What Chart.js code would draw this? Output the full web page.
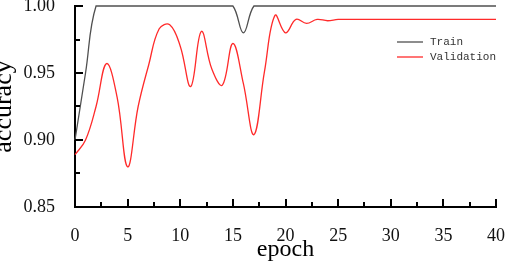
<!DOCTYPE html>
<html>
<head>
<meta charset="utf-8">
<script src="https://cdn.jsdelivr.net/npm/chart.js@4.4.0/dist/chart.umd.min.js"></script>
<style>
  html, body { margin: 0; padding: 0; background: #fff; }
  #wrap { width: 505px; height: 264px; }
</style>
</head>
<body>
<div id="wrap"><canvas id="accChart"></canvas></div>
<script>
// epochs 0..40
const epochs = [0,1,2,3,4,5,6,7,8,9,10,11,12,13,14,15,16,17,18,19,20,21,22,23,24,25,26,27,28,29,30,31,32,33,34,35,36,37,38,39,40];
const trainAcc = [0.90,0.95,1.00,1.00,1.00,1.00,1.00,1.00,1.00,1.00,1.00,1.00,1.00,1.00,1.00,1.00,0.98,1.00,1.00,1.00,1.00,1.00,1.00,1.00,1.00,1.00,1.00,1.00,1.00,1.00,1.00,1.00,1.00,1.00,1.00,1.00,1.00,1.00,1.00,1.00,1.00];
const valAcc = [0.889,0.900,0.925,0.957,0.932,0.880,0.925,0.956,0.983,0.986,0.970,0.940,0.981,0.953,0.941,0.972,0.942,0.904,0.951,0.993,0.980,0.990,0.987,0.990,0.989,0.990,0.990,0.990,0.990,0.990,0.990,0.990,0.990,0.990,0.990,0.990,0.990,0.990,0.990,0.990,0.990];
const xTicks = [0,5,10,15,20,25,30,35,40];
const yTicks = [0.85,0.90,0.95,1.00];

const toPts = arr => arr.map((v, i) => ({ x: epochs[i], y: v }));

// ticks drawn inward, like the original plot
const innerTicks = {
    id: 'innerTicks',
    afterDraw(chart) {
        const ctx = chart.ctx;
        const xs = chart.scales.x, ys = chart.scales.y;
        const a = chart.chartArea;
        ctx.save();
        ctx.strokeStyle = '#000';
        ctx.lineWidth = 2;
        for (let v = 0; v <= 40; v += 2.5) {
            const px = Math.round(xs.getPixelForValue(v));
            const len = (v % 5 === 0) ? 8 : 5;
            ctx.beginPath();
            ctx.moveTo(px, a.bottom);
            ctx.lineTo(px, a.bottom - len);
            ctx.stroke();
        }
        for (let k = 0; k <= 6; k++) {
            const v = 0.85 + k * 0.025;
            const py = Math.round(ys.getPixelForValue(v));
            const len = (k % 2 === 0) ? 8 : 5;
            ctx.beginPath();
            ctx.moveTo(a.left, py);
            ctx.lineTo(a.left + len, py);
            ctx.stroke();
        }
        // legend
        const items = chart.data.datasets;
        ctx.font = '11px "Liberation Mono"';
        ctx.textBaseline = 'middle';
        items.forEach((ds, i) => {
            const y = 42 + i * 15;
            ctx.strokeStyle = ds.borderColor;
            ctx.lineWidth = 1.3;
            ctx.beginPath();
            ctx.moveTo(397, y);
            ctx.lineTo(423, y);
            ctx.stroke();
            ctx.fillStyle = '#333';
            ctx.fillText(ds.label, 430, y);
        });
        ctx.restore();
    }
};

new Chart(document.getElementById('accChart'), {
    type: 'line',
    data: {
        datasets: [{
            label: 'Train',
            data: toPts(trainAcc),
            borderColor: '#505050',
            borderWidth: 1.3,
            pointRadius: 0,
            tension: 0.4,
            clip: false
        }, {
            label: 'Validation',
            data: toPts(valAcc),
            borderColor: '#ff2a2a',
            borderWidth: 1.3,
            pointRadius: 0,
            tension: 0.4,
            clip: false
        }]
    },
    options: {
        responsive: true,
        maintainAspectRatio: false,
        animation: false,
        layout: { padding: { top: 6, right: 9, left: 0, bottom: 0 } },
        plugins: { legend: { display: false }, tooltip: { enabled: false } },
        scales: {
            x: {
                type: 'linear',
                min: 0, max: 40,
                afterBuildTicks: s => { s.ticks = xTicks.map(v => ({ value: v })); },
                afterFit: s => { s.height = 57; s.paddingLeft = 0; s.paddingRight = 0; },
                grid: { display: false },
                border: { display: true, color: '#000', width: 2 },
                ticks: { color: '#111', padding: 10, maxRotation: 0, font: { family: '"Liberation Serif"', size: 18 } },
                title: { display: true, text: 'epoch', color: '#000', padding: 0, font: { family: '"Liberation Serif"', size: 24 } }
            },
            y: {
                min: 0.85, max: 1.00,
                afterBuildTicks: s => { s.ticks = yTicks.map(v => ({ value: v })); },
                afterFit: s => { s.width = 75; s.paddingTop = 0; s.paddingBottom = 0; },
                grid: { display: false },
                border: { display: true, color: '#000', width: 2 },
                ticks: { color: '#111', padding: 12, callback: v => v.toFixed(2), font: { family: '"Liberation Serif"', size: 18 } },
                title: { display: true, text: 'accuracy', color: '#000', padding: { top: -11, bottom: 0 }, font: { family: '"Liberation Serif"', size: 26 } }
            }
        }
    },
    plugins: [innerTicks]
});
</script>
</body>
</html>
